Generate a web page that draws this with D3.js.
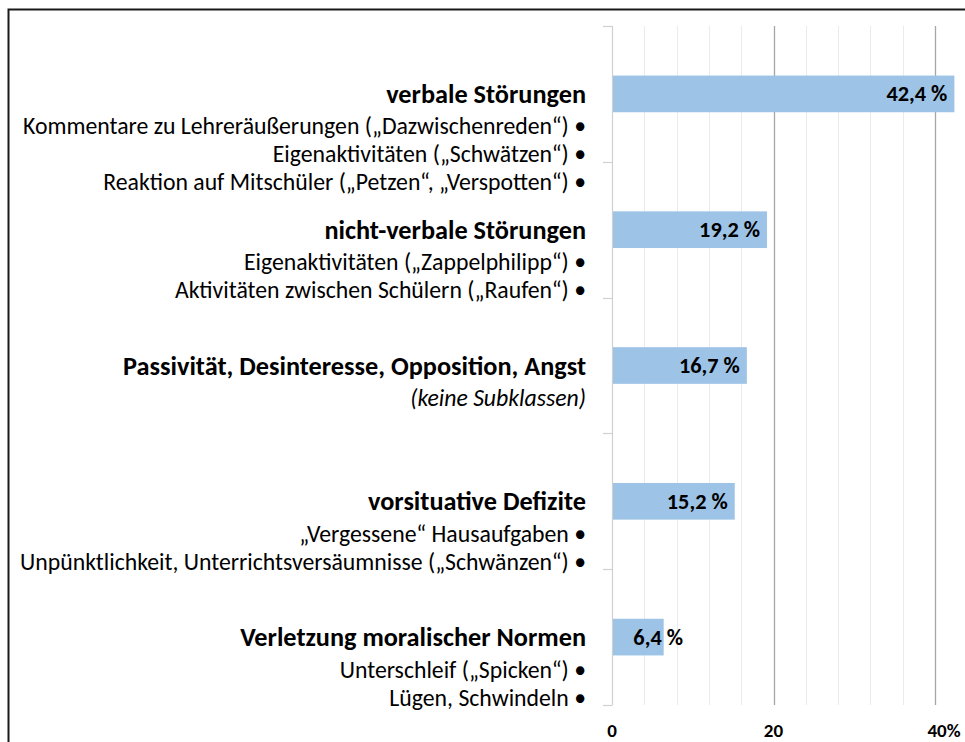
<!DOCTYPE html>
<html>
<head>
<meta charset="utf-8">
<script src="https://cdn.jsdelivr.net/npm/d3@7/dist/d3.min.js"></script>
<style>
  html, body { margin: 0; padding: 0; background: #fff; }
  svg { display: block; }
  text { font-family: Carlito, Calibri, Lato, "Open Sans", sans-serif; fill: #000; }
</style>
</head>
<body>
<svg id="chart" width="965" height="742"></svg>
<script>
// ---- data ----
const categories = [
  "verbale Störungen",
  "nicht-verbale Störungen",
  "Passivität, Desinteresse, Opposition, Angst",
  "vorsituative Defizite",
  "Verletzung moralischer Normen"
];
const values = [42.4, 19.2, 16.7, 15.2, 6.4];
const valueLabels = ["42,4 %", "19,2 %", "16,7 %", "15,2 %", "6,4 %"];
const subItems = [
  ["Kommentare zu Lehreräußerungen („Dazwischenreden“) •",
   "Eigenaktivitäten („Schwätzen“) •",
   "Reaktion auf Mitschüler („Petzen“, „Verspotten“) •"],
  ["Eigenaktivitäten („Zappelphilipp“) •",
   "Aktivitäten zwischen Schülern („Raufen“) •"],
  ["(keine Subklassen)"],
  ["„Vergessene“ Hausaufgaben •",
   "Unpünktlichkeit, Unterrichtsversäumnisse („Schwänzen“) •"],
  ["Unterschleif („Spicken“) •",
   "Lügen, Schwindeln •"]
];
const italicSub = [false, false, true, false, false];
const majorTicks = [0, 20, 40];
const tickLabels = ["0", "20", "40%"];
const minorStep = 4;

// ---- layout ----
const svg = d3.select("#chart");
const plot = { left: 612, right: 965, top: 26, bottom: 705 };

const x = d3.scaleLinear().domain([0, 40]).range([plot.left, 935]);
const y = d3.scaleBand().domain(categories).range([plot.top, plot.bottom]).padding(0);
const barH = y.bandwidth() * 0.27;

// frame
svg.append("rect")
  .attr("x", 8.5).attr("y", 9.5).attr("width", 1200).attr("height", 1200)
  .attr("fill", "none").attr("stroke", "#1a1a1a").attr("stroke-width", 2);

// minor gridlines
const minorVals = d3.range(minorStep, 44 + 0.001, minorStep).filter(v => majorTicks.indexOf(v) < 0 && x(v) < 965);
svg.append("g").selectAll("line").data(minorVals).join("line")
  .attr("x1", d => Math.round(x(d)) + 0.5).attr("x2", d => Math.round(x(d)) + 0.5)
  .attr("y1", plot.top).attr("y2", plot.bottom)
  .attr("stroke", "#ebebeb").attr("stroke-width", 1);

// major gridlines
svg.append("g").selectAll("line").data(majorTicks.filter(v => v > 0)).join("line")
  .attr("x1", d => Math.round(x(d)) + 0.5).attr("x2", d => Math.round(x(d)) + 0.5)
  .attr("y1", plot.top).attr("y2", plot.bottom)
  .attr("stroke", "#a6a6a6").attr("stroke-width", 1.3);

// left category axis with tick marks between categories
const boundaries = categories.map(c => y(c)).concat([plot.bottom]);
const yAxisG = svg.append("g");
yAxisG.append("line")
  .attr("x1", plot.left + 0.5).attr("x2", plot.left + 0.5)
  .attr("y1", plot.top).attr("y2", plot.bottom)
  .attr("stroke", "#d0d0d0").attr("stroke-width", 1.2);
yAxisG.selectAll("line.tk").data(boundaries).join("line").attr("class", "tk")
  .attr("x1", plot.left - 9).attr("x2", plot.left + 0.5)
  .attr("y1", d => Math.round(d) + 0.5).attr("y2", d => Math.round(d) + 0.5)
  .attr("stroke", "#d0d0d0").attr("stroke-width", 1.2);

// bars
svg.append("g").selectAll("rect").data(values).join("rect")
  .attr("x", x(0) + 1)
  .attr("y", (d, i) => y(categories[i]) + (y.bandwidth() - barH) / 2)
  .attr("width", d => x(d) - x(0) - 1)
  .attr("height", barH)
  .attr("fill", "#9dc3e6");

// bar value labels
svg.append("g").selectAll("text").data(values).join("text")
  .attr("class", "vlab")
  .attr("x", d => Math.max(x(d) - 7, x(0) + 71))
  .attr("y", (d, i) => y(categories[i]) + y.bandwidth() / 2)
  .attr("text-anchor", "end")
  .attr("dominant-baseline", "central")
  .attr("font-weight", "bold")
  .text((d, i) => valueLabels[i]);

// category labels
const labelX = 586;
const catG = svg.append("g");
categories.forEach((c, i) => {
  const cy = y(c) + y.bandwidth() / 2;
  catG.append("text")
    .attr("class", "cat")
    .attr("x", labelX).attr("y", cy)
    .attr("text-anchor", "end").attr("dominant-baseline", "central")
    .attr("font-weight", "bold")
    .text(c);
  subItems[i].forEach((s, j) => {
    catG.append("text")
      .attr("class", "sub")
      .attr("x", labelX).attr("y", cy + 32 + 28 * j)
      .attr("text-anchor", "end").attr("dominant-baseline", "central")
      .attr("font-style", italicSub[i] ? "italic" : "normal")
      .text(s);
  });
});

// x axis tick labels
svg.append("g").selectAll("text").data(majorTicks).join("text")
  .attr("class", "xlab")
  .attr("x", (d, i) => x(d) + (i === majorTicks.length - 1 ? 9 : 0))
  .attr("y", 730.5)
  .attr("text-anchor", "middle").attr("dominant-baseline", "central")
  .attr("font-weight", "bold")
  .text((d, i) => tickLabels[i]);

// fit font sizes to reference text widths
function fit(sel, sample, target) {
  const nodes = svg.selectAll(sel).nodes();
  const ref = nodes.find(n => n.textContent === sample);
  d3.select(ref).attr("font-size", 20);
  const w = ref.getComputedTextLength();
  const size = 20 * target / w;
  svg.selectAll(sel).attr("font-size", size);
}
fit("text.sub", subItems[0][0], 563);
fit("text.cat", categories[2], 463);
fit("text.vlab", valueLabels[0], 61);
svg.selectAll("text.xlab").attr("font-size", 19);
</script>
</body>
</html>
